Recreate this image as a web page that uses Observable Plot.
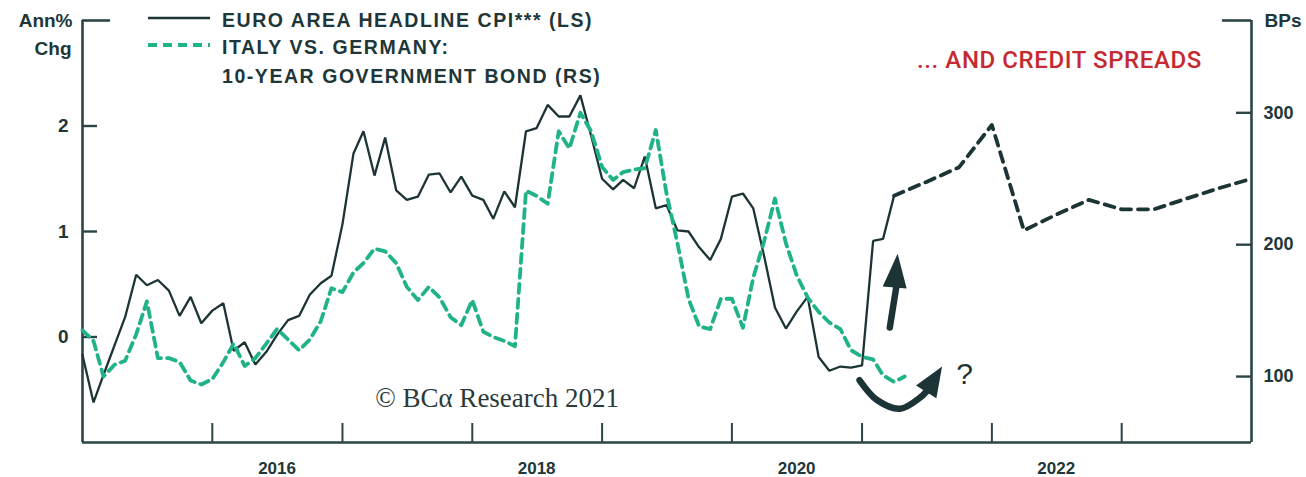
<!DOCTYPE html>
<html><head><meta charset="utf-8">
<script src="https://cdn.jsdelivr.net/npm/d3@7"></script>
<script src="https://cdn.jsdelivr.net/npm/@observablehq/plot@0.6"></script>
<style>
body{margin:0;background:#fff;}
#wrap{position:relative;width:1306px;height:477px;overflow:hidden;font-family:"Liberation Sans",Arial,sans-serif;}
#wrap svg{display:block;}
.lg{position:absolute;font-weight:bold;font-size:19.5px;letter-spacing:1.55px;color:#203638;white-space:nowrap;line-height:20px;}
#red{position:absolute;font-family:Roboto,"Liberation Sans",sans-serif;font-weight:500;font-size:24px;color:#c42a31;white-space:nowrap;line-height:24px;letter-spacing:0.6px;}
</style></head><body><div id="wrap"></div>
<script>
// ---- data ----
const cpiStart = "2014-12";          // first month of the CPI series
const cpiValues = [
  -0.17,
  -0.62,-0.36,-0.08,0.19,0.59,0.49,0.54,0.44,0.20,0.38,0.13,0.25,
  0.32,-0.13,-0.05,-0.26,-0.14,0.02,0.16,0.20,0.40,0.51,0.58,1.07,
  1.74,1.95,1.53,1.89,1.39,1.30,1.33,1.54,1.55,1.37,1.52,1.34,
  1.30,1.12,1.38,1.23,1.95,1.98,2.20,2.09,2.09,2.29,1.91,1.50,
  1.40,1.49,1.41,1.71,1.22,1.25,1.01,1.00,0.85,0.73,0.93,1.33,
  1.36,1.22,0.76,0.28,0.08,0.24,0.38,-0.19,-0.32,-0.28,-0.29,-0.27,
  0.91,0.93,1.34
];
const spreadStart = "2014-12";       // first month of the Italy-Germany spread (bps)
const spreadValues = [
  135,
  127,100,109,112,132,157,114,114,111,97,94,98,
  111,125,108,114,125,136,128,120,128,142,167,164,
  179,186,197,195,186,168,158,168,160,145,139,158,
  134,130,127,123,241,237,231,286,273,300,286,259,
  249,255,257,258,287,239,201,159,138,136,159,159,
  137,175,203,235,201,177,160,149,141,136,120,115,
  113,101,96,100
];
const forecastMonths = ["2021-03","2021-06","2021-09","2021-12","2022-03","2022-06","2022-09","2022-12","2023-03","2023-06","2023-09","2023-12"];
const forecastValues = [1.34,1.47,1.61,2.01,1.01,1.16,1.30,1.21,1.21,1.31,1.41,1.50];
const leftTicks = [0,1,2];
const rightTicks = [100,200,300];
const yearTicks = [2016,2017,2018,2019,2020,2021,2022,2023];
const yearLabels = [2016,2018,2020,2022];
// annotation anchor points (date, Ann% units)
const upArrowShaft = [{date:"2021-03-20",v:0.09},{date:"2021-04-07",v:0.47}];
const upArrowTip = [{date:"2021-04-11",v:0.79}];
const curveArrowShaft = [{date:"2020-12-25",v:-0.41},{date:"2021-02-13",v:-0.60},{date:"2021-04-18",v:-0.68},{date:"2021-06-13",v:-0.575},{date:"2021-06-30",v:-0.52}];
const curveArrowTip = [{date:"2021-08-14",v:-0.28}];
const questionMark = [{date:"2021-10-16",v:-0.35}];
const copyright = [{date:"2017-04-03",v:-0.58}];

// ---- build tables ----
const parseM = d3.utcParse("%Y-%m");
const endOf = s => d3.utcMonth.offset(parseM(s), 1);   // month value plotted at month end
const toLeft = b => (b - 130) / 80;                    // BPs (RS) -> Ann% (LS) units
const cpi = cpiValues.map((v,i) => ({date: d3.utcMonth.offset(parseM(cpiStart), i+1), v}));
const spread = spreadValues.map((b,i) => ({date: d3.utcMonth.offset(parseM(spreadStart), i+1), v: toLeft(b)}));
const forecast = forecastMonths.map((m,i) => ({date: endOf(m), v: forecastValues[i]}));
const pd = a => a.map(d => ({...d, date: new Date(d.date + "T00:00:00Z")}));

const W = 1306, H = 477, mL = 82, mR = 55, mT = 20, mB = 35;
const pW = W - mL - mR, pH = H - mT - mB;
const dark = "#1d3436", axisC = "#2b4446", txt = "#203638", green = "#20b389";
const x0 = new Date("2015-01-01T00:00:00Z"), x1 = new Date("2024-01-01T00:00:00Z");
const head = {draw(ctx){ ctx.moveTo(0,0); ctx.lineTo(-12,34); ctx.lineTo(12,34); ctx.closePath(); }};
const head2 = {draw(ctx){ ctx.moveTo(0,0); ctx.lineTo(-12,30); ctx.lineTo(12,30); ctx.closePath(); }};
const bold = {fontWeight:"bold", fontFamily:"Liberation Sans, Arial, sans-serif", fill:txt};

const chart = Plot.plot({
  width: W, height: H,
  marginLeft: mL, marginRight: mR, marginTop: mT, marginBottom: mB,
  x: {type:"utc", domain:[x0, x1], axis:null},
  y: {domain:[-1, 3], axis:null},
  style: {background:"#fff", overflow:"visible"},
  marks: [
    // axes frame
    Plot.ruleX([x0], {y1:-1, y2:3, stroke:axisC, strokeWidth:2.6}),
    Plot.ruleX([x1], {y1:-1, y2:3, stroke:axisC, strokeWidth:2.6}),
    Plot.ruleY([-1], {stroke:axisC, strokeWidth:2.6}),
    Plot.tickY(leftTicks, {y:d=>d, insetRight:pW-15, stroke:axisC, strokeWidth:2.4}),
    Plot.tickY([3], {y:d=>d, insetRight:pW-28, stroke:axisC, strokeWidth:2.6}),
    Plot.tickY(rightTicks, {y:d=>toLeft(d), insetLeft:pW-15, stroke:axisC, strokeWidth:2.4}),
    Plot.tickY([3], {y:d=>d, insetLeft:pW-29, stroke:axisC, strokeWidth:2.6}),
    Plot.tickX(yearTicks, {x:d=>new Date(Date.UTC(d,0,1)), insetTop:pH-19, stroke:axisC, strokeWidth:2}),
    // tick labels
    Plot.text(leftTicks, {y:d=>d, text:d=>String(d), frameAnchor:"left", textAnchor:"end", dx:-14, fontSize:19, ...bold}),
    Plot.text(rightTicks, {y:d=>toLeft(d), text:d=>String(d), frameAnchor:"right", textAnchor:"start", dx:12, fontSize:18, letterSpacing:1.5, ...bold}),
    Plot.text(yearLabels, {x:d=>new Date(Date.UTC(d,6,1)), text:d=>String(d), frameAnchor:"bottom", dy:26, lineAnchor:"middle", fontSize:17, letterSpacing:2, ...bold}),
    Plot.text(["Ann%"], {frameAnchor:"top-left", textAnchor:"end", lineAnchor:"middle", dx:-10, fontSize:19, letterSpacing:1.6, ...bold}),
    Plot.text(["Chg"], {frameAnchor:"top-left", textAnchor:"end", lineAnchor:"middle", dx:-11, dy:28, fontSize:19, letterSpacing:1.6, ...bold}),
    Plot.text(["BPs"], {frameAnchor:"top-right", textAnchor:"start", lineAnchor:"middle", dx:13, fontSize:19, letterSpacing:1, ...bold}),
    // series
    Plot.line(cpi, {x:"date", y:"v", stroke:dark, strokeWidth:2.3, strokeLinejoin:"miter"}),
    Plot.line(forecast, {x:"date", y:"v", stroke:dark, strokeWidth:3.8, strokeDasharray:"10,7"}),
    Plot.line(spread, {x:"date", y:"v", stroke:green, strokeWidth:3.8, strokeDasharray:"9,6"}),
    // annotations
    Plot.line(pd(upArrowShaft), {x:"date", y:"v", stroke:dark, strokeWidth:6.5}),
    Plot.dot(pd(upArrowTip), {x:"date", y:"v", symbol:head, rotate:5, fill:dark, stroke:"none"}),
    Plot.line(pd(curveArrowShaft), {x:"date", y:"v", curve:"catmull-rom", stroke:dark, strokeWidth:6.5, strokeLinecap:"round"}),
    Plot.dot(pd(curveArrowTip), {x:"date", y:"v", symbol:head2, rotate:32, fill:dark, stroke:"none"}),
    Plot.text(pd(questionMark), {x:"date", y:"v", text:()=>"?", fontSize:30, fontFamily:"Liberation Sans, Arial, sans-serif", fill:dark}),
    Plot.text(pd(copyright), {x:"date", y:"v", text:()=>"© BCα Research 2021", textAnchor:"start", fontSize:27, fontFamily:"Liberation Serif, Times New Roman, serif", fill:"#2a3a3b"})
  ]
});
const wrap = document.getElementById("wrap");
wrap.appendChild(chart);

// legend + headline annotation (HTML overlay)
const legend = [
  {text:"EURO AREA HEADLINE CPI*** (LS)", top:10},
  {text:"ITALY VS. GERMANY:", top:37},
  {text:"10-YEAR GOVERNMENT BOND (RS)", top:66}
];
legend.forEach(l => {
  const d = document.createElement("div");
  d.className = "lg"; d.style.left = "222px"; d.style.top = l.top + "px"; d.textContent = l.text;
  wrap.appendChild(d);
});
const sw = document.createElementNS("http://www.w3.org/2000/svg","svg");
sw.setAttribute("width","70"); sw.setAttribute("height","50");
sw.style.position="absolute"; sw.style.left="146px"; sw.style.top="8px";
sw.innerHTML = `<line x1="2" x2="64" y1="10" y2="10" stroke="${dark}" stroke-width="2.4"/>
<line x1="2" x2="64" y1="37" y2="37" stroke="${green}" stroke-width="3.8" stroke-dasharray="9,6"/>`;
wrap.appendChild(sw);
const red = document.createElement("div");
red.id = "red"; red.textContent = "... AND CREDIT SPREADS";
red.style.left = "917px"; red.style.top = "48px";
wrap.appendChild(red);
</script></body></html>
